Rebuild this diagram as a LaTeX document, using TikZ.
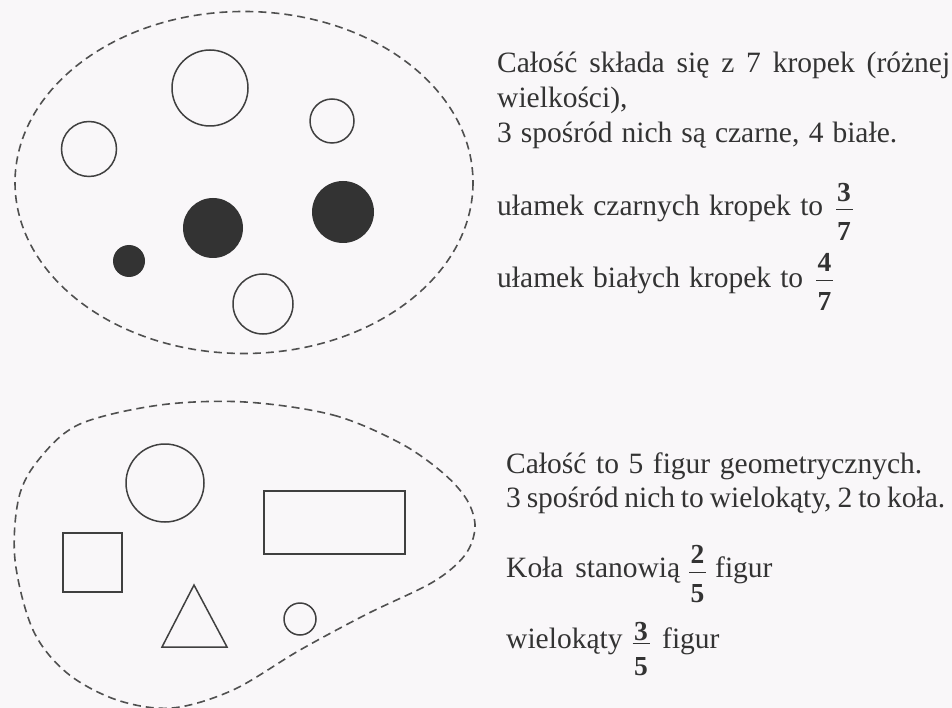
\documentclass[tikz,border=0pt]{standalone}
\usepackage{fontspec}
\setmainfont{Liberation Serif}
\definecolor{bg}{HTML}{F9F7F9}
\definecolor{ink}{HTML}{333333}
\definecolor{lineink}{HTML}{404040}
\definecolor{dashink}{HTML}{505050}
\newcommand\wbox[2]{\makebox[#1pt][s]{#2}}
\begin{document}
\begin{tikzpicture}[x=1pt,y=-1pt,
  outl/.style={draw=lineink,line width=1.5pt,fill=none},
  dot/.style={fill=ink,draw=none},
  blob/.style={draw=dashink,line width=1.6pt,dash pattern=on 8pt off 5pt},
  txt/.style={anchor=base west,inner sep=0pt,text=ink,font=\fontsize{29.5}{34}\selectfont},
  num/.style={anchor=base,inner sep=0pt,text=ink,font=\fontsize{27.5}{30}\selectfont\bfseries},
  bar/.style={draw=ink,line width=1.6pt}]
\fill[bg] (0,0) rectangle (952,708);
\useasboundingbox (0,0) rectangle (952,708);
% top set
\draw[blob] (244,182.5) ellipse [x radius=229,y radius=171];
\draw[outl] (210,88) circle (38);
\draw[outl] (332,121) circle (22);
\draw[outl] (89,149) circle (27.5);
\fill[dot] (213,228) circle (30);
\fill[dot] (343,212) circle (31);
\fill[dot] (129,261) circle (16);
\draw[outl] (263,304) circle (30);
% bottom set
\draw[blob] plot[smooth cycle,tension=0.55] coordinates {
 (245,402) (333,415) (400,443) (443,473) (467,500) (475,527) (465,555)
 (433,582) (367,614) (300,650) (233,690) (172,708) (117,700) (67,673)
 (33,630) (15,560) (19,497) (40,458) (80,424) (160,405)};
\draw[outl] (165,483) circle (39);
\draw[outl] (264,491) rectangle (405,554);
\draw[outl] (63,533) rectangle (122,592);
\draw[outl] (194,585) -- (227,647) -- (162,647) -- cycle;
\draw[outl] (300,619) circle (16);
% top text
\node[txt] (t1) at (497,73) {\wbox{453}{Całość składa się z 7 kropek (różnej}};
\node[txt] (t2) at (497,108) {wielkości),};
\node[txt] (t3) at (497,143) {\wbox{400}{3 spośród nich są czarne, 4 białe.}};
\node[txt] (t4) at (497,216) {\wbox{326}{ułamek czarnych kropek to}};
\node[num] (f1n) at (844,201.5) {3};
\draw[bar] (836,209.5) -- (853,209.5);
\node[num] (f1d) at (844,241) {7};
\node[txt] (t5) at (497,287.5) {\wbox{306}{ułamek białych kropek to}};
\node[num] (f2n) at (824.5,272) {4};
\draw[bar] (816,280.5) -- (833,280.5);
\node[num] (f2d) at (824.5,311) {7};
% bottom text
\node[txt] (b1) at (506,473) {\wbox{416}{Całość to 5 figur geometrycznych.}};
\node[txt] (b2) at (506,507) {\wbox{439}{3 spośród nich to wielokąty, 2 to koła.}};
\node[txt] (b3) at (506,577) {\wbox{174}{Koła stanowią}};
\node[num] (f3n) at (697.5,563) {2};
\draw[bar] (689,572.5) -- (706,572.5);
\node[num] (f3d) at (697.5,602) {5};
\node[txt] (b3b) at (715,577) {figur};
\node[txt] (b4) at (506,648) {wielokąty};
\node[num] (f4n) at (641,640) {3};
\draw[bar] (632.5,643.5) -- (649.5,643.5);
\node[num] (f4d) at (641,675) {5};
\node[txt] (b4b) at (662,648) {figur};
\end{tikzpicture}
\end{document}
